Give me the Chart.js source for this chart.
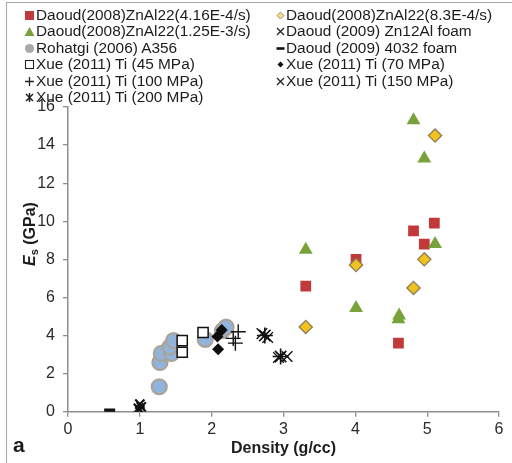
<!DOCTYPE html>
<html>
<head>
<meta charset="utf-8">
<script src="https://cdn.jsdelivr.net/npm/chart.js@4"></script>
<style>
  html, body { margin:0; padding:0; background:#fff; }
  #wrap { position:relative; width:512px; height:463px; overflow:hidden; background:#fff; font-family:"Liberation Sans", Arial, sans-serif; }
  #frame { position:absolute; left:6px; top:2px; width:520px; height:480px; border-left:1.5px solid #a8a8a8; border-top:1.5px solid #a8a8a8; }
  canvas { position:absolute; left:0; top:0; }
  .leg { position:absolute; font-size:15.4px; color:#1c1c1c; white-space:nowrap; line-height:16.4px; }
  .leg svg { position:absolute; top:3px; }
  .leg span { position:absolute; top:0; }
  #ytitle { position:absolute; left:30px; top:234px; transform:translate(-50%,-50%) rotate(-90deg); font-weight:bold; font-size:16px; color:#1c1c1c; white-space:nowrap; }
  #ytitle sub { font-size:11px; vertical-align:-3px; }
  #alabel { position:absolute; left:13px; top:433px; font-weight:bold; font-size:21px; color:#1c1c1c; }
</style>
</head>
<body>
<div id="wrap">
  <div id="frame"></div>
  <canvas id="c" width="512" height="463"></canvas>
  <div id="legend"></div>
  <div id="ytitle"><i>E</i><sub>s</sub> (GPa)</div>
  <div id="alabel">a</div>
</div>
<script>
// ---- data (density g/cc, Es GPa) ----
const daoudSlowX = [3.31, 4.01, 4.81, 5.10, 4.96, 4.60];
const daoudSlowY = [6.6, 8.0, 9.5, 9.9, 8.8, 3.6];
const daoudMidX = [5.11, 4.01, 4.96, 4.81, 3.31];
const daoudMidY = [14.5, 7.7, 8.0, 6.5, 4.45];
const daoudFastX = [4.81, 4.96, 3.31, 5.11, 4.01, 4.60, 4.61];
const daoudFastY = [15.3, 13.3, 8.5, 8.8, 5.45, 4.85, 5.05];
const zn12AlX = [1.00, 1.02, 1.00, 0.98];
const zn12AlY = [0.10, 0.25, 0.40, 0.18];
const rohatgiX = [1.27, 1.28, 1.30, 1.44, 1.42, 1.47, 1.91, 2.15, 2.20];
const rohatgiY = [1.31, 2.59, 3.06, 3.06, 3.40, 3.73, 3.80, 4.25, 4.44];
const foam4032X = [0.58];
const foam4032Y = [0.07];
const xue45X = [1.59, 1.59, 1.88];
const xue45Y = [3.73, 3.12, 4.16];
const xue70X = [2.14, 2.08, 2.09];
const xue70Y = [4.29, 3.95, 3.28];
const xue100X = [2.37, 2.30, 2.33];
const xue100Y = [4.20, 3.85, 3.60];
const xue150X = [2.70, 2.78, 3.05, 2.93];
const xue150Y = [4.10, 3.90, 2.90, 2.85];
const xue200X = [2.74, 2.96];
const xue200Y = [4.00, 2.90];
const xTicks = [0, 1, 2, 3, 4, 5, 6];
const yTicks = [0, 2, 4, 6, 8, 10, 12, 14, 16];

const pts = (xs, ys) => xs.map((x, i) => ({x, y: ys[i]}));

const RED = '#C2393B', GREEN = '#78A33B', YELLOW = '#F2C21E', YBORDER = '#8C7E57';

const datasets = [
  {label:'Rohatgi (2006) A356', data:pts(rohatgiX, rohatgiY), pointStyle:'circle', pointRadius:7.5,
   backgroundColor:'#92B3DE', borderColor:'#ABA398', borderWidth:2.2, order:10},
  {label:'Daoud(2008)ZnAl22(4.16E-4/s)', data:pts(daoudSlowX, daoudSlowY), pointStyle:'rect', pointRadius:7.6,
   backgroundColor:RED, borderColor:RED, borderWidth:0, order:9},
  {label:'Daoud(2008)ZnAl22(8.3E-4/s)', data:pts(daoudMidX, daoudMidY), pointStyle:'rectRot', pointRadius:6.6,
   backgroundColor:YELLOW, borderColor:YBORDER, borderWidth:1.3, order:8},
  {label:'Daoud(2008)ZnAl22(1.25E-3/s)', data:pts(daoudFastX, daoudFastY), pointStyle:'triangle', pointRadius:8,
   backgroundColor:GREEN, borderColor:GREEN, borderWidth:0, order:7},
  {label:'Xue (2011) Ti (45 MPa)', data:pts(xue45X, xue45Y), pointStyle:'rect', pointRadius:7.2,
   backgroundColor:'#ffffff', borderColor:'#111', borderWidth:1.5, order:6},
  {label:'Xue (2011) Ti (70 MPa)', data:pts(xue70X, xue70Y), pointStyle:'rectRot', pointRadius:6,
   backgroundColor:'#0d0d0d', borderColor:'#0d0d0d', borderWidth:0, order:5},
  {label:'Xue (2011) Ti (100 MPa)', data:pts(xue100X, xue100Y), pointStyle:'cross', pointRadius:7.5,
   backgroundColor:'#111', borderColor:'#111', borderWidth:1.4, order:4},
  {label:'Xue (2011) Ti (150 MPa)', data:pts(xue150X, xue150Y), pointStyle:'crossRot', pointRadius:7.5,
   backgroundColor:'#111', borderColor:'#111', borderWidth:1.4, order:3},
  {label:'Xue (2011) Ti (200 MPa)', data:pts(xue200X, xue200Y), pointStyle:'star', pointRadius:8,
   backgroundColor:'#111', borderColor:'#111', borderWidth:1.6, order:2},
  {label:'Daoud (2009) Zn12Al foam', data:pts(zn12AlX, zn12AlY), pointStyle:'crossRot', pointRadius:6.5,
   backgroundColor:'#111', borderColor:'#111', borderWidth:2.2, order:1},
  {label:'Daoud (2009) 4032 foam', data:pts(foam4032X, foam4032Y), pointStyle:'line', pointRadius:5.5,
   backgroundColor:'#111', borderColor:'#111', borderWidth:3.5, order:0}
];

const tickFont = {family:'"Liberation Sans", Arial, sans-serif', size:16};
const axisColor = '#8e8e8e';

new Chart(document.getElementById('c'), {
  type:'scatter',
  data:{datasets},
  options:{
    responsive:false, animation:false, devicePixelRatio:1,
    layout:{padding:{top:107, right:13, left:0, bottom:0}},
    plugins:{legend:{display:false}, tooltip:{enabled:false}},
    scales:{
      x:{type:'linear', min:xTicks[0], max:xTicks[xTicks.length-1],
         afterBuildTicks:(s)=>{ s.ticks = xTicks.map(v=>({value:v})); },
         afterFit:(s)=>{ s.height = 51.3; },
         ticks:{font:tickFont, color:'#2a2a2a', padding:3, maxRotation:0},
         grid:{display:true, drawOnChartArea:false, tickLength:5, color:axisColor, lineWidth:1.3},
         border:{color:axisColor, width:1.5},
         title:{display:true, text:'Density (g/cc)', color:'#1c1c1c',
                font:{family:'"Liberation Sans", Arial, sans-serif', size:16, weight:'bold'}, padding:{top:0, bottom:5}}},
      y:{type:'linear', min:yTicks[0], max:yTicks[yTicks.length-1],
         afterBuildTicks:(s)=>{ s.ticks = yTicks.map(v=>({value:v})); },
         afterFit:(s)=>{ s.width = 68; },
         ticks:{font:tickFont, color:'#2a2a2a', padding:8},
         grid:{display:true, drawOnChartArea:false, tickLength:5, color:axisColor, lineWidth:1.3},
         border:{color:axisColor, width:1.5}}
    }
  }
});

// ---- HTML legend (two columns) ----
const legendItems = [
  // [column, row, label, marker]
  [0, 0, 'Daoud(2008)ZnAl22(4.16E-4/s)', '<rect x="1" y="1" width="9" height="9" fill="'+RED+'"/>'],
  [0, 1, 'Daoud(2008)ZnAl22(1.25E-3/s)', '<polygon points="5.5,1 10.5,10 0.5,10" fill="'+GREEN+'"/>'],
  [0, 2, 'Rohatgi (2006) A356', '<circle cx="5.5" cy="5.5" r="4.6" fill="#a9a9a9"/>'],
  [0, 3, 'Xue (2011) Ti (45 MPa)', '<rect x="1.5" y="1.5" width="8" height="8" fill="#fff" stroke="#222" stroke-width="1.1"/>'],
  [0, 4, 'Xue (2011) Ti (100 MPa)', '<path d="M5.5 1V10M1 5.5H10" stroke="#222" stroke-width="1.3"/>'],
  [0, 5, 'Xue (2011) Ti (200 MPa)', '<path d="M5.5 1V10M2 2L9 9M9 2L2 9" stroke="#222" stroke-width="1.5"/>'],
  [1, 0, 'Daoud(2008)ZnAl22(8.3E-4/s)', '<polygon points="5.5,2 9,5.5 5.5,9 2,5.5" fill="#f3dc8a" stroke="#9b9276" stroke-width="1"/>'],
  [1, 1, 'Daoud (2009) Zn12Al foam', '<path d="M2 2L9 9M9 2L2 9" stroke="#222" stroke-width="1.3"/>'],
  [1, 2, 'Daoud (2009) 4032 foam', '<path d="M1.5 5.5H9.5" stroke="#111" stroke-width="2.6"/>'],
  [1, 3, 'Xue (2011) Ti (70 MPa)', '<polygon points="5.5,2.5 8.5,5.5 5.5,8.5 2.5,5.5" fill="#111"/>'],
  [1, 4, 'Xue (2011) Ti (150 MPa)', '<path d="M2 2L9 9M9 2L2 9" stroke="#222" stroke-width="1.3"/>']
];
const colMarkX = [24, 275], colTextX = [36, 286];
const rowTop = 7, rowStep = 16.4;
const legend = document.getElementById('legend');
legendItems.forEach(([c, r, label, marker]) => {
  const d = document.createElement('div');
  d.className = 'leg';
  d.style.left = '0px';
  d.style.top = (rowTop + r * rowStep) + 'px';
  d.innerHTML = '<svg width="11" height="11" style="left:' + colMarkX[c] + 'px">' + marker + '</svg>' +
                '<span style="left:' + colTextX[c] + 'px">' + label + '</span>';
  legend.appendChild(d);
});
</script>
</body>
</html>
